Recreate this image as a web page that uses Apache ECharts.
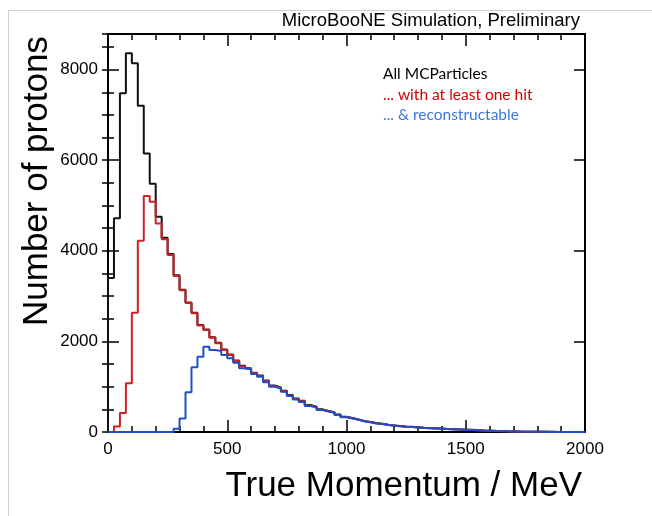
<!DOCTYPE html>
<html>
<head>
<meta charset="utf-8">
<script src="https://cdn.jsdelivr.net/npm/echarts@6/dist/echarts.min.js"></script>
<style>
html,body{margin:0;padding:0;background:#fff;}
#chart{width:652px;height:516px;}
</style>
</head>
<body>
<div id="chart"></div>
<script>
// Bin edges: 25 MeV bins from 0 to 2000 MeV
const binWidth = 25;
const nBins = 80;
const binStarts = Array.from({length: nBins}, (_, i) => i * binWidth);

// All MCParticles
const allMC = [3400,4720,7480,8360,8140,7200,6150,5480,4750,4290,
  3930,3460,3140,2860,2630,2360,2260,2090,1970,1820,
  1710,1580,1460,1410,1310,1245,1135,1025,985,910,
  815,740,690,595,558,500,464,437,387,337,
  310,278,243,222,197,181,161,146,130,120,
  114,104,94,86,81,75,68,62,57,52,
  47,42,34,30,25,21,16,13,10,8,
  6,5,4,3,3,2,2,1,1,1];

// ... with at least one hit
const withHit = [0,120,420,1075,2630,4220,5210,5085,4600,4255,
  3910,3445,3130,2850,2620,2350,2250,2080,1960,1810,
  1700,1570,1450,1400,1300,1235,1125,1015,975,900,
  805,730,680,585,548,492,456,430,380,330,
  305,274,239,219,194,178,158,143,128,118,
  112,102,92,84,79,73,66,61,56,51,
  46,41,33,29,24,20,15,12,9,7,
  5,4,3,3,2,2,1,1,1,0];

// ... & reconstructable
const reco = [0,0,0,0,0,0,0,0,0,0,
  0,70,300,880,1430,1660,1880,1810,1790,1700,
  1630,1530,1405,1385,1280,1220,1100,1000,960,890,
  795,720,665,575,540,485,450,425,375,325,
  300,270,235,215,190,175,155,140,125,115,
  110,100,90,82,78,72,65,60,55,50,
  45,40,32,28,23,19,14,11,9,7,
  5,4,3,2,2,2,1,1,1,0];

const xTicks = [0, 500, 1000, 1500, 2000];
const yTickLabels = [0, 2000, 4000, 6000, 8000];

const xMin = 0, xMax = 2000;
const yMax = 8786;

function stepData(vals) {
  const d = [[binStarts[0], 0]];
  vals.forEach((v, i) => d.push([binStarts[i], v]));
  d.push([binStarts[nBins - 1] + binWidth, vals[nBins - 1]]);
  return d;
}

const chart = echarts.init(document.getElementById('chart'), null, {renderer: 'canvas'});
const font = 'Liberation Sans, Arial, Helvetica, sans-serif';
const tickStyle = {color: '#000', width: 1.5};

const baseX = {
  type: 'value', min: xMin, max: xMax, interval: 500,
  splitLine: {show: false},
  axisLine: {show: true, onZero: false, lineStyle: {color: '#000', width: 2}},
  axisTick: {show: true, inside: true, length: 12, lineStyle: tickStyle},
  minorTick: {show: true, splitNumber: 5, length: 6, lineStyle: tickStyle},
  minorSplitLine: {show: false}
};
const baseYMajor = {
  type: 'value', min: 0, max: yMax, interval: 2000,
  splitLine: {show: false},
  axisLine: {show: true, onZero: false, lineStyle: {color: '#000', width: 2}},
  axisTick: {show: true, inside: true, length: 11, lineStyle: tickStyle}
};
const baseYMinor = {
  type: 'value', min: 0, max: yMax, interval: 500,
  splitLine: {show: false},
  axisLine: {show: false},
  axisLabel: {show: false},
  axisTick: {show: true, inside: true, length: 6, lineStyle: tickStyle}
};

chart.setOption({
  animation: false,
  backgroundColor: '#fff',
  grid: {left: 108, right: 67, top: 34, bottom: 84, containLabel: false},
  xAxis: [
    Object.assign({}, baseX, {
      position: 'bottom',
      axisLabel: {show: true, fontSize: 17, color: '#000', fontFamily: font, margin: 9,
        formatter: v => xTicks.includes(v) ? String(v) : ''}
    }),
    Object.assign({}, baseX, {position: 'top', axisLabel: {show: false}})
  ],
  yAxis: [
    Object.assign({}, baseYMajor, {
      position: 'left',
      axisLabel: {show: true, fontSize: 17, color: '#000', fontFamily: font, margin: 10,
        showMaxLabel: false,
        formatter: v => yTickLabels.includes(v) ? String(v) : ''}
    }),
    Object.assign({}, baseYMinor, {position: 'left'}),
    Object.assign({}, baseYMajor, {position: 'right', axisLabel: {show: false}}),
    Object.assign({}, baseYMinor, {position: 'right'})
  ],
  series: [
    {name: 'All MCParticles', type: 'line', step: 'end', data: stepData(allMC),
      showSymbol: false, symbol: 'none', xAxisIndex: 0, yAxisIndex: 0,
      lineStyle: {color: '#111111', width: 2}, z: 2},
    {name: '... with at least one hit', type: 'line', step: 'end', data: stepData(withHit),
      showSymbol: false, symbol: 'none', xAxisIndex: 0, yAxisIndex: 0,
      lineStyle: {color: '#cf1f26', width: 2}, z: 3},
    {name: '... & reconstructable', type: 'line', step: 'end', data: stepData(reco),
      showSymbol: false, symbol: 'none', xAxisIndex: 0, yAxisIndex: 0,
      lineStyle: {color: '#1f4ec8', width: 2}, z: 4}
  ],
  graphic: [
    {type: 'line', shape: {x1: 8, y1: 10.5, x2: 652, y2: 10.5}, style: {stroke: '#d0d0d0', lineWidth: 1}},
    {type: 'line', shape: {x1: 8.5, y1: 10, x2: 8.5, y2: 516}, style: {stroke: '#d0d0d0', lineWidth: 1}},
    {type: 'text', right: 72, top: 11, style: {text: 'MicroBooNE Simulation, Preliminary', fontSize: 18.5, fontFamily: font, fill: '#000'}},
    {type: 'text', left: 383, top: 66, style: {text: 'All MCParticles', fontSize: 15.5, fontFamily: 'Lato, sans-serif', fill: '#000'}},
    {type: 'text', left: 383, top: 87, style: {text: '... with at least one hit', fontSize: 15.5, fontFamily: 'Lato, sans-serif', fill: '#d40000'}},
    {type: 'text', left: 383, top: 107, style: {text: '... & reconstructable', fontSize: 15.5, fontFamily: 'Lato, sans-serif', fill: '#3a78d8'}},
    {type: 'text', right: 70, top: 469, style: {text: 'True Momentum / MeV', fontSize: 35, fontFamily: font, fill: '#000'}},
    {type: 'text', x: 20, y: 326, rotation: Math.PI / 2, style: {text: 'Number of protons', fontSize: 35, fontFamily: font, fill: '#000', textVerticalAlign: 'top'}}
  ]
});
</script>
</body>
</html>
